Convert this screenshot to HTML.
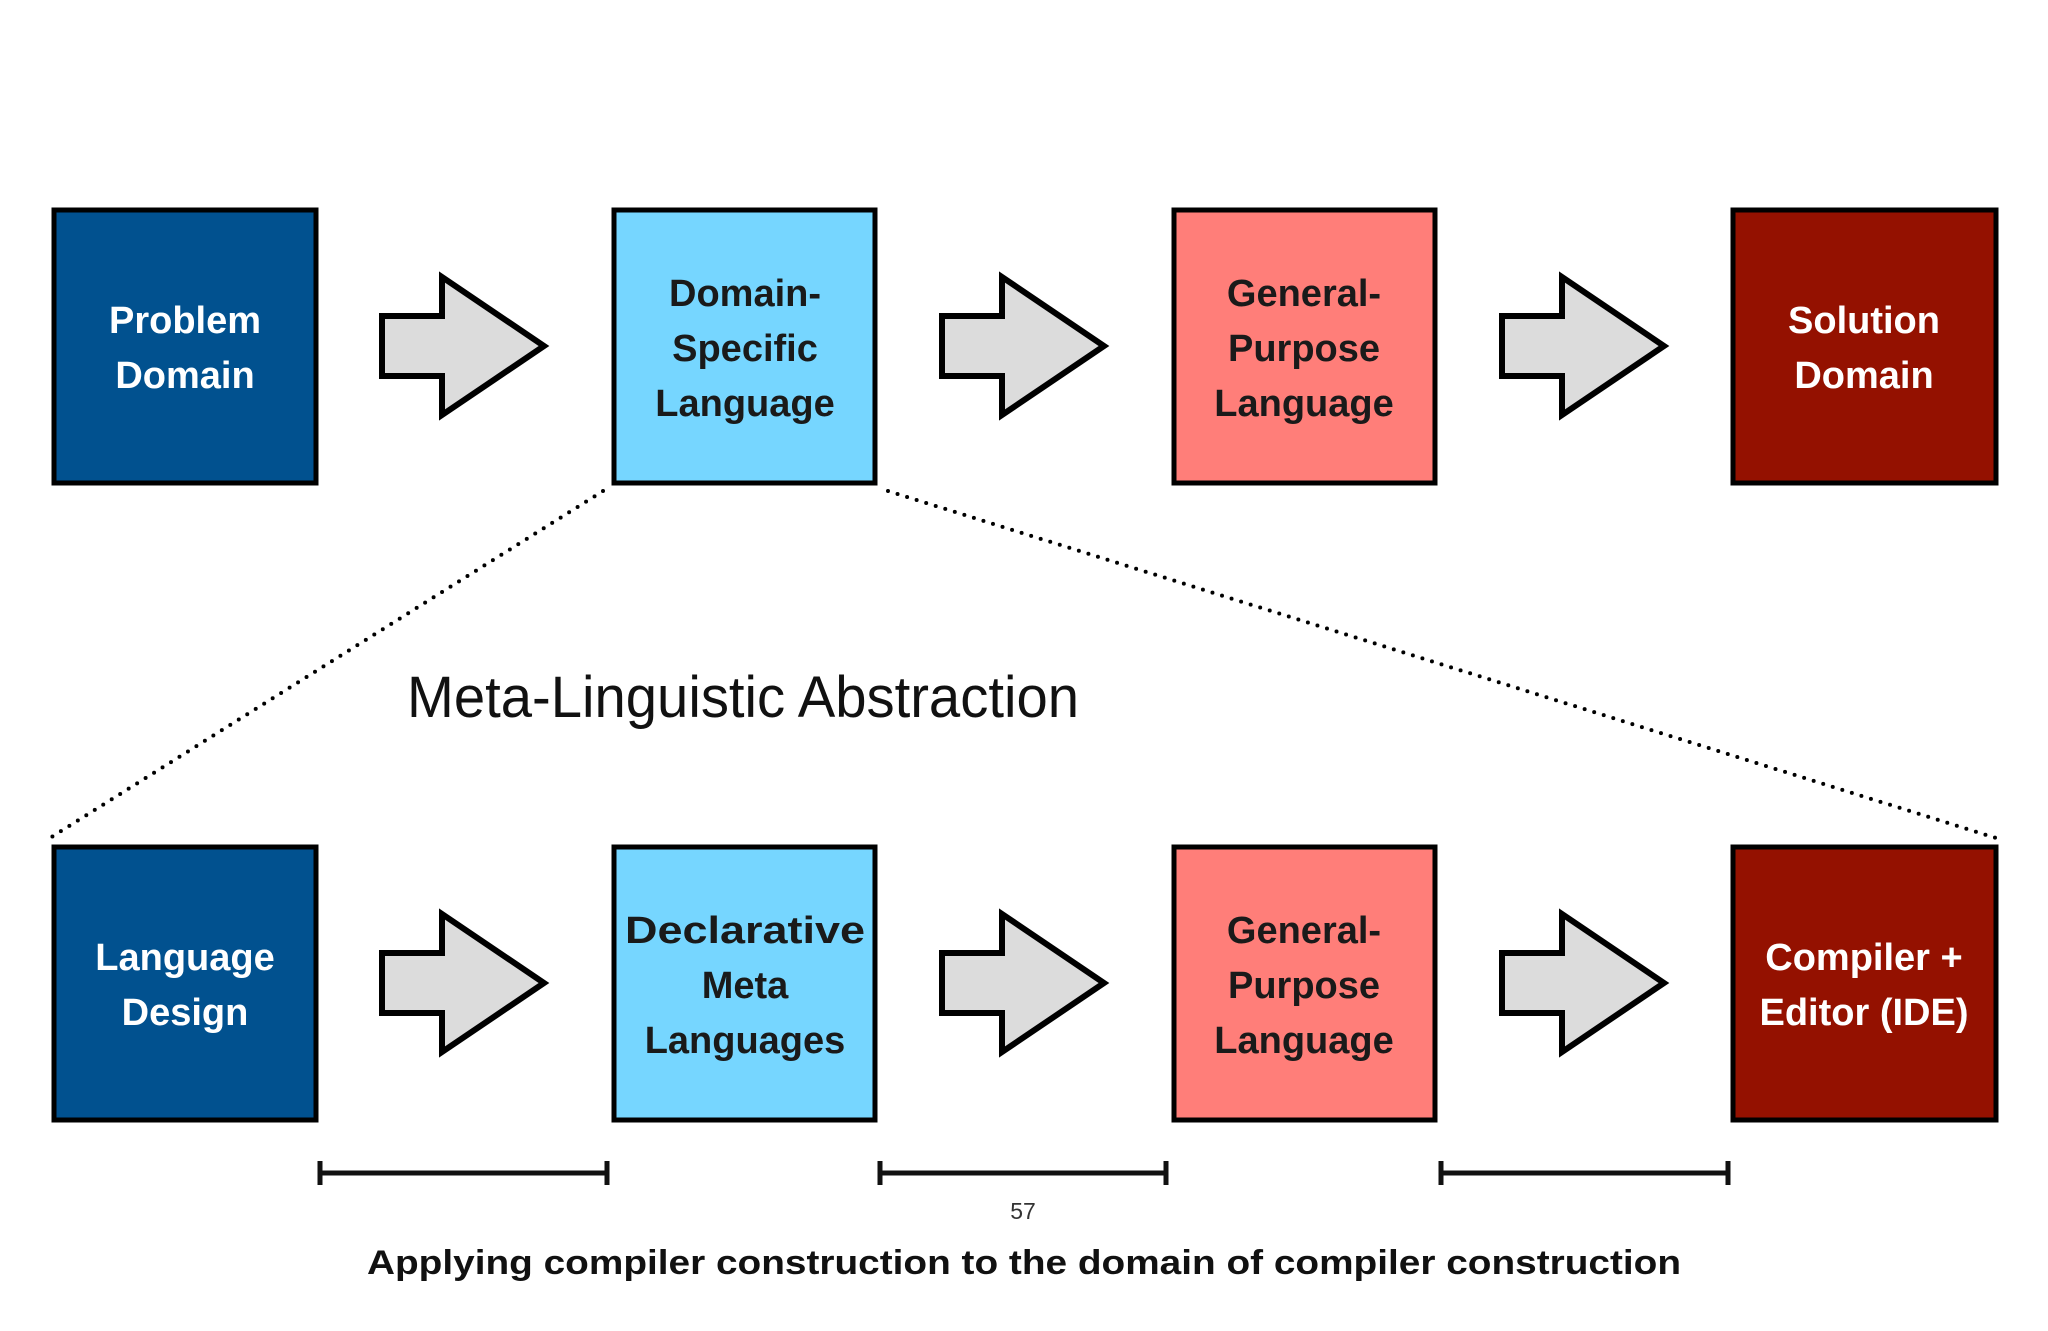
<!DOCTYPE html>
<html><head><meta charset="utf-8"><style>html,body{margin:0;padding:0;background:#fff}svg{display:block}</style></head>
<body>
<svg width="2048" height="1331" viewBox="0 0 2048 1331" xmlns="http://www.w3.org/2000/svg">
<defs>
<g id="arr"><polygon points="0,-30 60,-30 60,-69 162,0 60,69 60,30 0,30" fill="#dcdcdc" stroke="#000" stroke-width="6" stroke-linejoin="miter"/></g>
</defs>
<g stroke="#000" stroke-width="5">
<rect x="54" y="210" width="262" height="273" fill="#01518f"/>
<rect x="614" y="210" width="261" height="273" fill="#76d6ff"/>
<rect x="1174" y="210" width="261" height="273" fill="#ff7e79"/>
<rect x="1733" y="210" width="263" height="273" fill="#941100"/>
<rect x="54" y="847" width="262" height="273" fill="#01518f"/>
<rect x="614" y="847" width="261" height="273" fill="#76d6ff"/>
<rect x="1174" y="847" width="261" height="273" fill="#ff7e79"/>
<rect x="1733" y="847" width="263" height="273" fill="#941100"/>
</g>
<use href="#arr" x="382" y="346"/><use href="#arr" x="942" y="346"/><use href="#arr" x="1502" y="346"/>
<use href="#arr" x="382" y="983"/><use href="#arr" x="942" y="983"/><use href="#arr" x="1502" y="983"/>
<g stroke="#000" stroke-width="4" stroke-dasharray="0 10" stroke-linecap="round" fill="none">
<line x1="603" y1="491" x2="50" y2="838"/>
<line x1="888" y1="491" x2="1996" y2="838"/>
</g>
<g font-family="Liberation Sans, sans-serif" font-weight="bold" font-size="38" text-anchor="middle">
<g fill="#fff">
<text x="185" y="333">Problem</text><text x="185" y="388">Domain</text>
<text x="1864" y="333">Solution</text><text x="1864" y="388">Domain</text>
<text x="185" y="970">Language</text><text x="185" y="1025">Design</text>
<text x="1864" y="970">Compiler +</text><text x="1864" y="1025">Editor (IDE)</text>
</g>
<g fill="#1a1a1a">
<text x="745" y="306">Domain-</text><text x="745" y="361">Specific</text><text x="745" y="416">Language</text>
<text x="1304" y="306">General-</text><text x="1304" y="361">Purpose</text><text x="1304" y="416">Language</text>
<text x="745" y="943" textLength="240" lengthAdjust="spacingAndGlyphs">Declarative</text><text x="745" y="998">Meta</text><text x="745" y="1053">Languages</text>
<text x="1304" y="943">General-</text><text x="1304" y="998">Purpose</text><text x="1304" y="1053">Language</text>
</g>
</g>
<text x="407" y="717" font-family="Liberation Sans, sans-serif" font-size="58" fill="#111" textLength="672" lengthAdjust="spacingAndGlyphs">Meta-Linguistic Abstraction</text>
<g stroke="#111" stroke-width="5" fill="none">
<path d="M320 1173H607M320 1161V1185M607 1161V1185"/>
<path d="M880 1173H1166M880 1161V1185M1166 1161V1185"/>
<path d="M1441 1173H1728M1441 1161V1185M1728 1161V1185"/>
</g>
<text x="1023" y="1219" font-family="Liberation Sans, sans-serif" font-size="23" fill="#333" text-anchor="middle">57</text>
<text x="1024" y="1274" font-family="Liberation Sans, sans-serif" font-weight="bold" font-size="34" fill="#111" text-anchor="middle" textLength="1314" lengthAdjust="spacingAndGlyphs">Applying compiler construction to the domain of compiler construction</text>
</svg>
</body></html>
